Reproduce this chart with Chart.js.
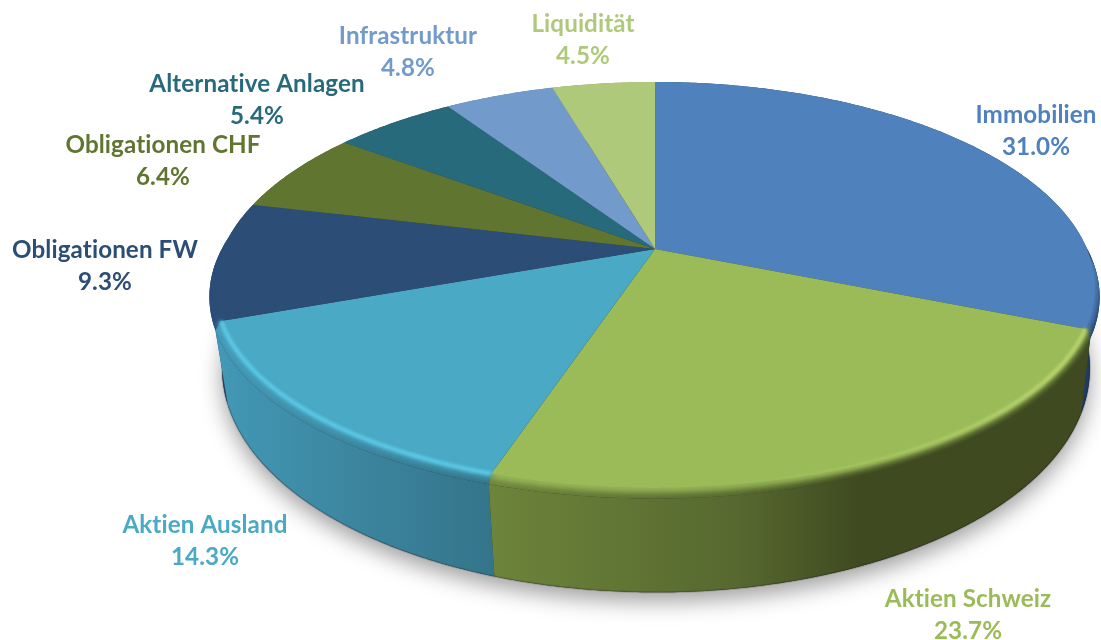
<!DOCTYPE html>
<html>
<head>
<meta charset="utf-8">
<title>Anlagestruktur</title>
<script src="https://cdn.jsdelivr.net/npm/chart.js@4"></script>
<style>
    html, body { margin: 0; padding: 0; background: #fff; }
    canvas { display: block; }
</style>
</head>
<body>
<canvas id="myChart" width="1101" height="640"></canvas>
<script>
const categories = ['Immobilien', 'Aktien Schweiz', 'Aktien Ausland', 'Obligationen FW', 'Obligationen CHF', 'Alternative Anlagen', 'Infrastruktur', 'Liquidität'];
const shares = [31.0, 23.7, 14.3, 9.3, 6.4, 5.4, 4.8, 4.5];

const topColors = ['#4f81bd', '#9bbb59', '#4aa9c4', '#2c4d75', '#5f7530', '#276a7c', '#729aca', '#afc97a'];
// side wall colours, left to right
const wallColors = [
    [[0, '#1f3d64'], [1, '#1f3d64']],
    [[0, '#6d843b'], [0.42, '#56682f'], [0.62, '#3f4a20'], [1, '#3f4a20']],
    [[0, '#4298b5'], [0.5, '#3c859f'], [1, '#34758a']],
    [[0, '#2a4b7a'], [1, '#2a4b7a']],
    [[0, '#4c5e26'], [1, '#4c5e26']],
    [[0, '#205663'], [1, '#205663']],
    [[0, '#5b7ba2'], [1, '#5b7ba2']],
    [[0, '#8ca162'], [1, '#8ca162']]
];
// centre x and first-line y of each two-line label
const labelAnchors = [[1036, 115], [968, 599], [205, 525], [105, 250], [163, 145], [257, 84], [408, 36], [583, 24]];

const topPlane = { cx: 655, cy: 249, a: 432, b: 196.6 };
const bulgePlane = { cx: 654.5, cy: 258, a: 437, b: 198 };
const bottomPlane = { cx: 656, cy: 325, a: 426, b: 220 };
const tiltX = 0.19;
const tiltY = 0.177;
// part of the rim that faces the viewer, in the library's arc angles
const frontFrom = 0.05;
const frontTo = Math.PI - 0.05;

// arc angle from the library -> point on the tilted disc
function project(angle, plane) {
    const u = Math.cos(angle);
    const v = Math.sin(angle);
    return [plane.cx + plane.a * u / (1 - tiltX * v), plane.cy + plane.b * v / (1 - tiltY * v)];
}

function tracePath(ctx, from, to, plane, first) {
    const steps = Math.max(4, Math.ceil(Math.abs(to - from) / 0.01));
    for (let i = 0; i <= steps; i++) {
        const p = project(from + (to - from) * i / steps, plane);
        if (i === 0 && first) ctx.moveTo(p[0], p[1]);
        else ctx.lineTo(p[0], p[1]);
    }
}

function arcGradient(ctx, arc, stops) {
    const xs = [];
    const steps = 40;
    for (let i = 0; i <= steps; i++) {
        const a = arc.startAngle + (arc.endAngle - arc.startAngle) * i / steps;
        xs.push(project(a, topPlane)[0]);
    }
    const gradient = ctx.createLinearGradient(Math.min(...xs), 0, Math.max(...xs), 0);
    stops.forEach(s => gradient.addColorStop(s[0], s[1]));
    return gradient;
}

function strokeFrontRim(ctx, arc) {
    const from = Math.max(arc.startAngle, frontFrom);
    const to = Math.min(arc.endAngle, frontTo);
    if (to <= from) return;
    ctx.beginPath();
    tracePath(ctx, from, to, topPlane, true);
    ctx.stroke();
}

const pie3d = {
    id: 'pie3d',
    beforeDatasetsDraw(chart) {
        const ctx = chart.ctx;
        const arcs = chart.getDatasetMeta(0).data;

        // ground shadow
        ctx.save();
        ctx.beginPath();
        tracePath(ctx, 0, Math.PI * 2, bottomPlane, true);
        ctx.closePath();
        ctx.shadowColor = 'rgba(0,0,0,0.38)';
        ctx.shadowBlur = 22;
        ctx.shadowOffsetY = 9;
        ctx.fillStyle = '#333';
        ctx.fill();
        ctx.restore();

        // walls, back slices first
        const wallOrder = [7, 6, 5, 4, 3, 0, 2, 1];
        wallOrder.forEach(i => {
            const arc = arcs[i];
            ctx.fillStyle = arcGradient(ctx, arc, wallColors[i]);
            ctx.beginPath();
            tracePath(ctx, arc.startAngle, arc.endAngle, topPlane, true);
            tracePath(ctx, arc.endAngle, arc.startAngle, bulgePlane, false);
            ctx.closePath();
            ctx.fill();
            ctx.beginPath();
            tracePath(ctx, arc.startAngle, arc.endAngle, bulgePlane, true);
            tracePath(ctx, arc.endAngle, arc.startAngle, bottomPlane, false);
            ctx.closePath();
            ctx.fill();
            ctx.beginPath();
            tracePath(ctx, arc.startAngle, arc.endAngle, bottomPlane, true);
            ctx.strokeStyle = 'rgba(0,0,0,0.16)';
            ctx.lineWidth = 2;
            ctx.stroke();
        });

        // soft bevel between wall and top, kept inside the body outline
        ctx.save();
        ctx.beginPath();
        [topPlane, bulgePlane, bottomPlane].forEach(plane => {
            tracePath(ctx, 0, Math.PI * 2, plane, true);
            ctx.closePath();
        });
        ctx.clip();
        ctx.filter = 'blur(3px)';
        ctx.lineWidth = 9;
        arcs.forEach((arc, i) => {
            ctx.strokeStyle = topColors[i];
            strokeFrontRim(ctx, arc);
        });
        ctx.restore();

        // top faces
        arcs.forEach((arc, i) => {
            ctx.beginPath();
            ctx.moveTo(topPlane.cx, topPlane.cy);
            tracePath(ctx, arc.startAngle, arc.endAngle, topPlane, false);
            ctx.closePath();
            ctx.fillStyle = topColors[i];
            ctx.fill();
        });

        // light rim on the two front slices
        ctx.save();
        ctx.filter = 'blur(1.5px)';
        ctx.lineWidth = 4;
        ctx.strokeStyle = arcGradient(ctx, arcs[1], [[0, 'rgba(185,214,110,0)'], [0.45, 'rgba(185,214,110,0)'], [0.95, '#b9d66e'], [1, '#b9d66e']]);
        strokeFrontRim(ctx, arcs[1]);
        ctx.strokeStyle = '#5ccbe8';
        strokeFrontRim(ctx, arcs[2]);
        ctx.restore();
        return false;
    },
    afterDraw(chart) {
        const ctx = chart.ctx;
        ctx.save();
        ctx.font = 'bold 24.2px Lato';
        ctx.letterSpacing = '0.1px';
        ctx.textAlign = 'center';
        ctx.textBaseline = 'middle';
        categories.forEach((name, i) => {
            ctx.fillStyle = topColors[i];
            ctx.fillText(name, labelAnchors[i][0], labelAnchors[i][1]);
            ctx.fillText(shares[i].toFixed(1) + '%', labelAnchors[i][0], labelAnchors[i][1] + 32);
        });
        ctx.restore();
    }
};

document.addEventListener('DOMContentLoaded', function() {
    const ctx = document.getElementById('myChart').getContext('2d');
    new Chart(ctx, {
        type: 'pie',
        data: {
            labels: categories,
            datasets: [{ data: shares, backgroundColor: topColors, borderWidth: 0 }]
        },
        options: {
            responsive: false,
            animation: false,
            plugins: { legend: { display: false }, tooltip: { enabled: false } }
        },
        plugins: [pie3d]
    });
});
</script>
</body>
</html>
